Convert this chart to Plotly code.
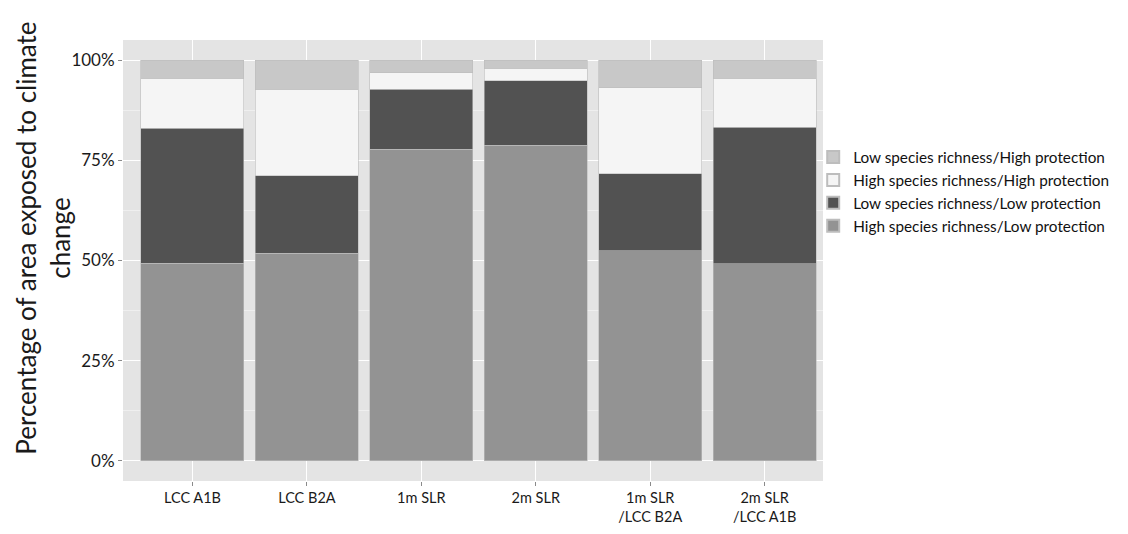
import plotly.graph_objects as go

categories = ["LCC A1B", "LCC B2A", "1m SLR", "2m SLR", "1m SLR<br>/LCC B2A", "2m SLR<br>/LCC A1B"]
high_rich_low_prot = [49.3, 51.8, 77.7, 78.7, 52.4, 49.2]
low_rich_low_prot = [33.7, 19.4, 15.0, 16.1, 19.3, 34.0]
high_rich_high_prot = [12.5, 21.5, 4.1, 3.2, 21.4, 12.3]
low_rich_high_prot = [4.5, 7.3, 3.2, 2.0, 6.9, 4.5]

series = [
    ("High species richness/Low protection", high_rich_low_prot, "#939393"),
    ("Low species richness/Low protection", low_rich_low_prot, "#525252"),
    ("High species richness/High protection", high_rich_high_prot, "#F5F5F5"),
    ("Low species richness/High protection", low_rich_high_prot, "#C8C8C8"),
]

FONT = "Lato"
fig = go.Figure()
for name, vals, color in series:
    fig.add_trace(go.Bar(
        x=categories, y=vals, name=name,
        marker=dict(color=color, line=dict(color="#BDBDBD", width=0.6)),
        width=0.9,
    ))

fig.update_layout(
    barmode="stack",
    width=1120, height=526,
    margin=dict(l=115, r=305, t=32, b=53),
    paper_bgcolor="white",
    plot_bgcolor="#E4E4E4",
    font=dict(family=FONT, color="#1a1a1a"),
    showlegend=True,
    legend=dict(
        traceorder="reversed",
        x=0.986, xanchor="left", y=0.772, yanchor="top",
        font=dict(size=15.3, family=FONT, color="#111"),
        bgcolor="rgba(0,0,0,0)",
        itemsizing="constant",
        tracegroupgap=0,
        borderwidth=0,
    ),
    xaxis=dict(
        range=[-0.607, 5.51],
        automargin=False,
        showgrid=True, gridcolor="white", gridwidth=1,
        ticks="outside", ticklen=4, tickcolor="#8a8a8a",
        tickfont=dict(size=14.5, family=FONT, color="#1a1a1a"),
        zeroline=False, showline=False,
    ),
    yaxis=dict(
        range=[-5, 105],
        automargin=False,
        tickvals=[0, 25, 50, 75, 100],
        ticktext=["0%", "25%", "50%", "75%", "100%"],
        showgrid=True, gridcolor="white", gridwidth=1.2,
        minor=dict(tickvals=[12.5, 37.5, 62.5, 87.5], showgrid=True, gridcolor="#EFEFEF", gridwidth=1, ticks=""),
        ticks="outside", ticklen=4, tickcolor="#8a8a8a",
        tickfont=dict(size=17, family=FONT, color="#1a1a1a"),
        zeroline=False, showline=False,
    ),
    annotations=[dict(
        text="Percentage of area exposed to climate<br>change",
        textangle=-90,
        xref="paper", yref="paper",
        x=-0.114, y=0.55, xanchor="center", yanchor="middle",
        showarrow=False,
        font=dict(size=26, family=FONT, color="#1a1a1a"),
    )],
)

fig.write_html("out.html")
